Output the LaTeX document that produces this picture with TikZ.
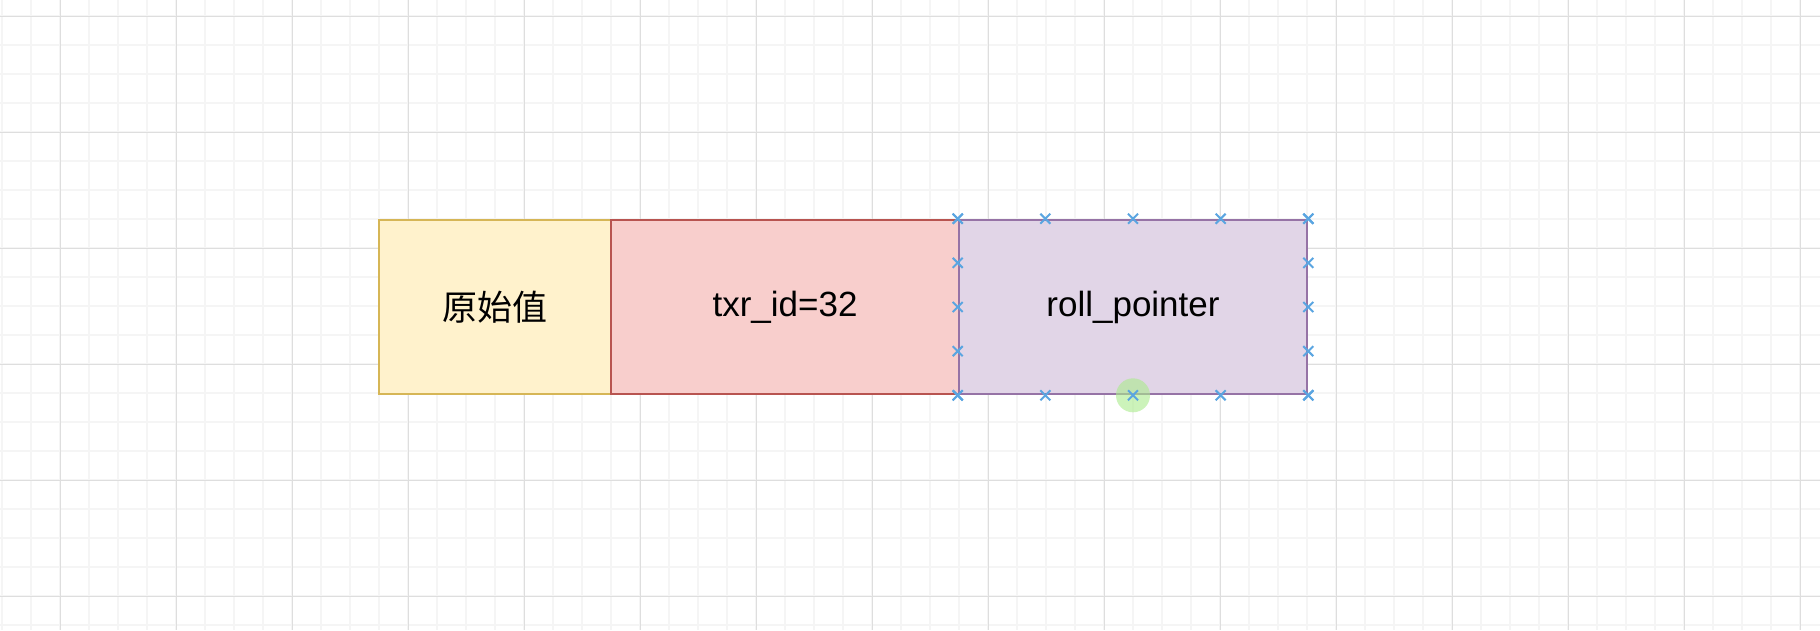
\documentclass[tikz,border=0pt]{standalone}
\usepackage{fontspec}
\setmainfont{Liberation Sans}
\newfontfamily\cjk{Noto Sans CJK SC}
\usetikzlibrary{calc}
\definecolor{gridminor}{RGB}{245,245,245}
\definecolor{gridmajor}{RGB}{222,222,222}
\definecolor{yfill}{HTML}{FFF2CC}\definecolor{ydraw}{HTML}{D6B656}
\definecolor{rfill}{HTML}{F8CECC}\definecolor{rdraw}{HTML}{B85450}
\definecolor{pfill}{HTML}{E1D5E7}\definecolor{pdraw}{HTML}{9673A6}
\definecolor{markblue}{RGB}{90,165,225}
\definecolor{hoverfill}{RGB}{170,235,140}
\tikzset{
  minorline/.style={draw=gridminor,line width=1.2pt},
  majorline/.style={draw=gridmajor,line width=1pt},
  cell/.style={draw,line width=2.6pt,inner sep=0pt,minimum height=174pt,
    font=\fontsize{35}{40}\selectfont},
  xmark/.style={draw=markblue,line width=2pt},
}
\begin{document}
\begin{tikzpicture}[x=1pt,y=-1pt]
\useasboundingbox (0,0) rectangle (1820,630);
\fill[white] (0,0) rectangle (1820,630);
\foreach \i in {0,...,62} {\draw[minorline] ({2+29*\i},0) -- ({2+29*\i},630);}
\foreach \i in {0,...,21} {\draw[minorline] (0,{16+29*\i}) -- (1820,{16+29*\i});}
\foreach \i in {0,...,15} {\draw[majorline] ({60+116*\i},0) -- ({60+116*\i},630);}
\foreach \i in {0,...,5} {\draw[majorline] (0,{16+116*\i}) -- (1820,{16+116*\i});}

\node[cell,draw=ydraw,fill=yfill,minimum width=232pt] (a) at (495,307) {\cjk 原始值};
\node[cell,draw=rdraw,fill=rfill,minimum width=348pt] (b) at (785,307) {txr\_id=32};
\node[cell,draw=pdraw,fill=pfill,minimum width=348pt] (c) at (1133,307) {roll\_pointer};

\fill[hoverfill,opacity=0.6] (c.south) circle (17pt);

\foreach \t in {0,0.25,0.5,0.75,1} {
  \coordinate (m1) at ($(c.north west)!\t!(c.north east)$);
  \coordinate (m2) at ($(c.south west)!\t!(c.south east)$);
  \coordinate (m3) at ($(c.north west)!\t!(c.south west)$);
  \coordinate (m4) at ($(c.north east)!\t!(c.south east)$);
  \foreach \m in {m1,m2,m3,m4} {
    \draw[xmark] (\m) ++(-5,-5) -- ++(10,10) ++(-10,0) -- ++(10,-10);
  }
}
\end{tikzpicture}
\end{document}
